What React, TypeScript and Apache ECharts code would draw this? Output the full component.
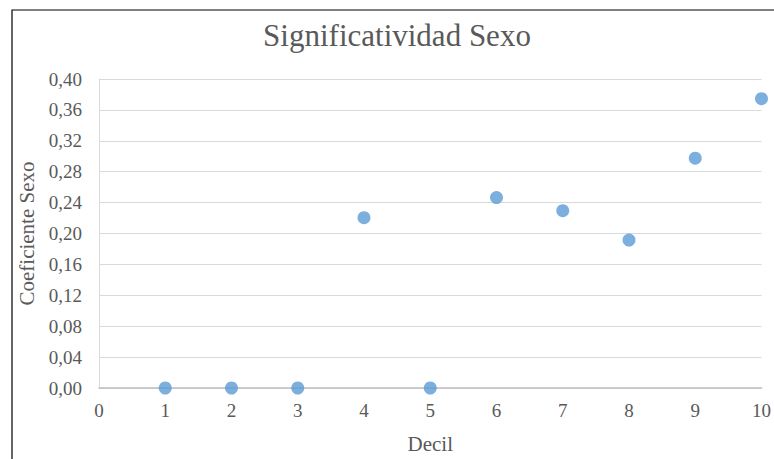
import React, { useEffect, useRef } from "react";
import * as echarts from "echarts";

const deciles = [1, 2, 3, 4, 5, 6, 7, 8, 9, 10];
const coefficients = [0, 0, 0, 0.2205, 0, 0.2465, 0.2295, 0.1915, 0.2975, 0.3745];
const titleText = "Significatividad Sexo";
const xName = "Decil";
const yName = "Coeficiente Sexo";

const FONT = "'Liberation Serif', 'Times New Roman', serif";
const TXT = "#595959";

export default function App() {
  const ref = useRef<HTMLDivElement>(null);
  useEffect(() => {
    if (!ref.current) return;
    const chart = echarts.init(ref.current, undefined, { renderer: "svg" });
    chart.setOption({
      animation: false,
      backgroundColor: "#ffffff",
      title: {
        text: titleText,
        left: 392,
        top: 15,
        textAlign: "center",
        textStyle: { fontFamily: FONT, fontSize: 31, fontWeight: "normal", color: TXT },
      },
      graphic: [
        {
          type: "rect",
          shape: { x: 12, y: 10, width: 800, height: 500 },
          style: { fill: "none", stroke: "#000000", lineWidth: 1.2 },
          silent: true,
        },
      ],
      grid: { left: 99, top: 79, width: 667, height: 312, containLabel: false },
      xAxis: {
        type: "value",
        min: 0,
        max: 10,
        interval: 1,
        name: xName,
        nameLocation: "middle",
        nameGap: 45,
        nameTextStyle: { fontFamily: FONT, fontSize: 21, color: TXT },
        axisLine: { show: true, lineStyle: { color: "#bfbfbf", width: 1.5 } },
        axisTick: { show: false },
        splitLine: { show: false },
        axisLabel: { fontFamily: FONT, fontSize: 19, color: TXT, margin: 13 },
      },
      yAxis: {
        type: "value",
        min: 0,
        max: 0.4,
        interval: 0.04,
        name: yName,
        nameLocation: "middle",
        nameGap: 60,
        nameTextStyle: { fontFamily: FONT, fontSize: 21, color: TXT },
        axisLine: { show: true, lineStyle: { color: "#d9d9d9", width: 1 } },
        axisTick: { show: false },
        splitLine: { show: true, lineStyle: { color: "#d9d9d9", width: 1 } },
        axisLabel: {
          fontFamily: FONT,
          fontSize: 19,
          color: TXT,
          margin: 17,
          formatter: (v: number) => v.toFixed(2).replace(".", ","),
        },
      },
      series: [
        {
          type: "scatter",
          data: deciles.map((d, i) => [d, coefficients[i]]),
          symbol: "circle",
          symbolSize: 13,
          itemStyle: { color: "#5B9BD5" },
          clip: false,
        },
      ],
    });
    return () => chart.dispose();
  }, []);
  return (
    <div
      ref={ref}
      style={{ position: "fixed", left: 0, top: 0, width: 774, height: 459 }}
    />
  );
}
